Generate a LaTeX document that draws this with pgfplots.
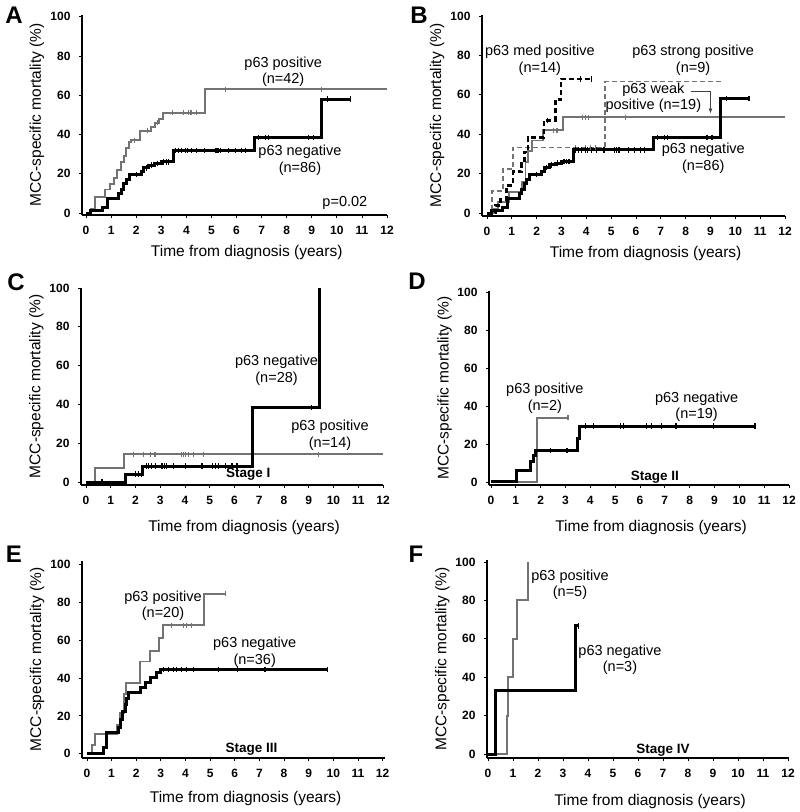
\documentclass[border=0pt]{standalone}
\usepackage{pgfplots}
\pgfplotsset{compat=1.18}
\usepackage{fontspec}
\setmainfont{Liberation Sans}
\usetikzlibrary{arrows.meta}
\definecolor{kmgray}{RGB}{115,115,115}
\newcommand{\labfont}{\fontsize{15.5}{18}\selectfont}
\pgfplotsset{
  km/.style={
    scale only axis, axis lines=left, axis line style={line width=2.2pt,-},
    xmax=12, xtick={0,1,...,12}, ytick={0,20,...,100},
    tick style={black,line width=0.8pt}, major tick length=3pt, tick align=outside,
    ticklabel style={font=\fontsize{12}{14}\selectfont\bfseries},
    yticklabel style={xshift=-5pt},
    xticklabel style={yshift=-5pt},
    /pgf/number format/assume math mode=true,
    xlabel={Time from diagnosis (years)},
    ylabel={MCC-specific mortality (\%)},
    every axis y label/.style={at={(axis description cs:-0.148,0.5)},rotate=90,anchor=center,font=\labfont},
    every axis x label/.style={at={(axis description cs:0.54,0)},anchor=center,yshift=-37pt,font=\labfont},
    clip=false,
  },
  xl/.style={every axis x label/.style={at={(axis description cs:0.54,0)},anchor=center,yshift=-#1,font=\labfont}},
  pos/.style={const plot, kmgray, line width=1.9pt},
  neg/.style={const plot, black, line width=3pt},
  cg/.style={only marks, mark=|, mark size=2.5pt, kmgray, mark options={line width=1.1pt}},
  cb/.style={only marks, mark=|, mark size=2.7pt, black, mark options={line width=1.2pt}},
}
\tikzset{ann/.style={align=center,font=\fontsize{14.5}{16.7}\selectfont},
  stg/.style={font=\fontsize{13.5}{16}\selectfont\bfseries},
  let/.style={font=\fontsize{24}{24}\selectfont\bfseries}}
\begin{document}
\begin{tikzpicture}
\useasboundingbox (0,0) rectangle (800pt,812pt);
% ---------------- A
\begin{axis}[km, at={(82pt,597pt)}, anchor=south west, width=305pt, height=200pt,
  xmin=-0.16, ymin=-1, ymax=100.9]
\addplot[pos] coordinates {(0,0)(0.2,2)(0.37,8)(0.75,12)(0.95,15)(1.1,18)(1.25,22)(1.4,26)(1.5,29)(1.6,33)(1.7,36)(1.8,37)(2.15,42)(2.6,44)(2.75,46)(2.9,48)(3.07,51)(4.75,63)(12,63)};
\addplot[cg] coordinates {(1.95,37)(2.45,42)(2.85,46)(3.45,51)(3.89,51)(4.09,51)(4.16,51)(4.22,51)(4.42,51)(5.55,63)(9.39,63)};
\addplot[neg] coordinates {(0,0)(0.17,1.5)(0.64,3)(0.84,7.5)(1.3,10)(1.4,12)(1.5,15)(1.6,17)(1.72,19.5)(2.2,21)(2.3,23)(2.5,24.4)(2.75,25.3)(3.0,26.1)(3.47,32)(6.72,38.4)(9.4,58)(10.55,58)};
\addplot[cb] coordinates {(2.0,19.5)(2.4,23)(2.6,24.4)(2.85,25.3)(3.1,26.1)(3.2,26.1)(3.3,26.1)(3.56,32)(3.69,32)(3.82,32)(3.96,32)(4.06,32)(4.22,32)(4.42,32)(4.71,32)(5.15,32)(5.22,32)(5.29,32)(5.35,32)(5.69,32)(5.95,32)(6.19,32)(6.35,32)(6.88,38.4)(7.14,38.4)(7.28,38.4)(8.86,38.4)(9.06,38.4)(9.64,58)(10.55,58)};
\node[ann] at (axis cs:7.86,72) {p63 positive\\(n=42)};
\node[ann] at (axis cs:8.53,27) {p63 negative\\(n=86)};
\node[ann] at (axis cs:10.32,5.2) {p=0.02};
\end{axis}
% ---------------- B
\begin{axis}[km, at={(482pt,596pt)}, anchor=south west, width=303pt, height=201pt,
  xmin=-0.2, ymin=-1.5, ymax=100.5]
\addplot[const plot, kmgray, line width=1.6pt, dash pattern=on 5pt off 3pt] coordinates {(0,0)(0.2,11.1)(0.65,22.2)(1.05,33.3)(4.75,66.7)(9.5,66.7)};
\addplot[cg] coordinates {(3.55,33.3)(3.96,33.3)(4.16,33.3)(4.36,33.3)};
\addplot[pos] coordinates {(0,0)(0.3,2)(0.45,5.5)(0.9,10.5)(1.4,15.8)(1.55,26)(1.65,31.5)(1.8,36.8)(2.25,42.1)(3.05,48.6)(12,48.6)};
\addplot[cg] coordinates {(2.69,42.1)(2.82,42.1)(3.83,48.6)(3.96,48.6)(4.07,48.6)(5.57,48.6)};
\addplot[neg] coordinates {(0,0)(0.17,1.5)(0.64,3)(0.84,7.5)(1.3,10)(1.4,12)(1.5,15)(1.6,17)(1.72,19.5)(2.2,21)(2.3,23)(2.5,24.4)(2.75,25.3)(3.0,26.1)(3.47,32)(6.72,38.4)(9.4,58)(10.55,58)};
\addplot[cb] coordinates {(2.0,19.5)(2.4,23)(2.6,24.4)(2.85,25.3)(3.1,26.1)(3.2,26.1)(3.3,26.1)(3.56,32)(3.69,32)(3.82,32)(3.96,32)(4.06,32)(4.22,32)(4.42,32)(4.71,32)(5.15,32)(5.22,32)(5.29,32)(5.35,32)(5.69,32)(5.95,32)(6.19,32)(6.35,32)(6.88,38.4)(7.14,38.4)(7.28,38.4)(8.86,38.4)(9.06,38.4)(9.64,58)(10.55,58)};
\addplot[const plot, black, line width=2.8pt, dash pattern=on 5pt off 3pt] coordinates {(0,0)(0.35,4)(0.55,7)(0.8,14)(1.05,21)(1.4,25)(1.5,31)(1.65,38.5)(2.3,47)(2.75,57.5)(2.98,68)(4.2,68)};
\addplot[cb] coordinates {(2.45,47)(3.75,68)(4.2,68)};
\node[ann] at (axis cs:2.13,77.7) {p63 med positive\\(n=14)};
\node[ann] at (axis cs:8.3,77.7) {p63 strong positive\\(n=9)};
\node[ann, font=\fontsize{14.5}{15.5}\selectfont] at (axis cs:6.7,58.6) {p63 weak\\positive (n=19)};
\node[ann] at (axis cs:8.71,27.8) {p63 negative\\(n=86)};
\draw[black!75, line width=0.8pt, -{Latex[length=5pt,width=4pt]}] (axis cs:8.2,61.5) -- (axis cs:9.0,61.5) -- (axis cs:9.0,50.5);
\end{axis}
% ---------------- C
\begin{axis}[km, xl=42pt, at={(81pt,327pt)}, anchor=south west, width=302pt, height=197pt,
  xmin=-0.2, ymin=-1.5, ymax=100]
\addplot[pos] coordinates {(0,0)(0.35,7.1)(1.52,14.3)(12,14.3)};
\addplot[cg] coordinates {(1.91,14.3)(2.32,14.3)(2.6,14.3)(2.79,14.3)(3.87,14.3)(3.95,14.3)(4.01,14.3)(4.13,14.3)(4.34,14.3)(4.74,14.3)(9.38,14.3)};
\addplot[neg] coordinates {(0,0)(1.59,4.1)(2.3,8.2)(6.71,38.5)(9.45,100)};
\addplot[cb] coordinates {(0.65,0)(1.99,4.1)(2.13,4.1)(2.24,4.1)(2.46,8.2)(2.53,8.2)(2.64,8.2)(2.8,8.2)(3.07,8.2)(3.18,8.2)(3.27,8.2)(3.54,8.2)(4.01,8.2)(4.69,8.2)(5.12,8.2)(5.22,8.2)(5.36,8.2)(5.63,8.2)(5.9,8.2)(6.1,8.2)(9.12,38.5)};
\node[ann] at (axis cs:7.7,57.7) {p63 negative\\(n=28)};
\node[ann] at (axis cs:9.86,24.2) {p63 positive\\(n=14)};
\node[stg] at (axis cs:6.56,4.1) {Stage I};
\end{axis}
% ---------------- D
\begin{axis}[km, xl=42pt, at={(489pt,327pt)}, anchor=south west, width=300pt, height=194pt,
  xmin=-0.08, ymin=-1.6, ymax=100.7]
\addplot[pos] coordinates {(0,0)(1.85,33.8)(3.1,33.8)};
\addplot[cg] coordinates {(3.1,33.8)};
\addplot[neg] coordinates {(0,0)(1.01,5.8)(1.58,10.7)(1.72,14.2)(1.81,16.5)(3.5,23)(3.56,29.5)(10.63,29.5)};
\addplot[cb] coordinates {(2.39,16.5)(3.06,16.5)(3.79,29.5)(4.12,29.5)(5.2,29.5)(5.33,29.5)(6.27,29.5)(6.47,29.5)(6.87,29.5)(7.45,29.5)(8.95,29.5)(10.63,29.5)};
\node[ann] at (axis cs:2.17,44) {p63 positive\\(n=2)};
\node[ann] at (axis cs:8.28,39.6) {p63 negative\\(n=19)};
\node[stg] at (axis cs:6.6,2.5) {Stage II};
\end{axis}
% ---------------- E
\begin{axis}[km, xl=40pt, at={(82pt,54pt)}, anchor=south west, width=303pt, height=197pt,
  xmin=-0.2, xmax=12.1, ymin=-2.3, ymax=102]
\addplot[pos] coordinates {(0,0)(0.2,4.5)(0.34,10.6)(1.22,15)(1.35,21.6)(1.49,26)(1.52,31.4)(1.58,37.2)(2.16,48.8)(2.57,54.4)(2.93,61.2)(3.08,68.1)(4.77,84.6)(5.61,84.6)};
\addplot[cg] coordinates {(3.45,68.1)(3.92,68.1)(4.05,68.1)(4.23,68.1)(5.61,84.6)};
\addplot[neg] coordinates {(0,0)(0.66,3)(0.8,11)(1.28,14)(1.38,18)(1.45,22.5)(1.55,26)(1.62,29)(1.69,32.3)(2.16,34.9)(2.36,37.6)(2.57,40.3)(2.84,42.9)(2.97,44.7)(9.78,44.7)};
\addplot[cb] coordinates {(3.11,44.7)(3.31,44.7)(3.51,44.7)(3.65,44.7)(3.85,44.7)(4.05,44.7)(4.32,44.7)(5.34,44.7)(6.12,44.7)(7.2,44.7)(7.25,44.7)(9.78,44.7)};
\node[ann] at (axis cs:3.09,78.3) {p63 positive\\(n=20)};
\node[ann] at (axis cs:6.81,53.6) {p63 negative\\(n=36)};
\node[stg] at (axis cs:6.68,2.5) {Stage III};
\end{axis}
% ---------------- F
\begin{axis}[km, xl=43pt, at={(487pt,54pt)}, anchor=south west, width=302pt, height=198pt,
  xmin=-0.04, xmax=12.04, ymin=-2, ymax=101]
\addplot[pos] coordinates {(0,0)(0.75,20)(0.8,40)(1.01,60)(1.15,80)(1.61,100)};
\addplot[neg] coordinates {(0,0)(0.28,33.3)(3.48,66.7)(3.61,66.7)};
\addplot[cb] coordinates {(3.61,66.7)};
\node[ann] at (axis cs:3.28,88.2) {p63 positive\\(n=5)};
\node[ann] at (axis cs:5.28,49.1) {p63 negative\\(n=3)};
\node[stg] at (axis cs:7.0,2.2) {Stage IV};
\end{axis}
% panel letters
\node[let] at (14pt,797pt) {A};
\node[let] at (419pt,797pt) {B};
\node[let] at (16pt,530pt) {C};
\node[let] at (417pt,531pt) {D};
\node[let] at (14pt,258pt) {E};
\node[let] at (416pt,258pt) {F};
\end{tikzpicture}
\end{document}
